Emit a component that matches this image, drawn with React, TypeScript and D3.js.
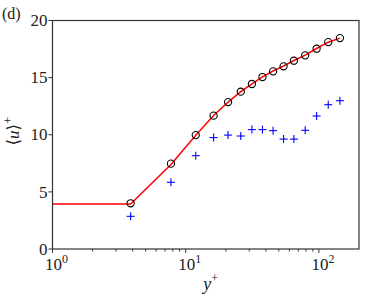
import React from 'react';
import * as d3 from "d3";

// constants
const width = 366;
const height = 299;
const margin = {top: 20.5, right: 7, bottom: 50, left: 52.5};
const innerWidth = width - margin.left - margin.right;
const innerHeight = height - margin.top - margin.bottom;

// data
const circleY = [3.86, 7.75, 11.9, 16.2, 20.8, 25.9, 31.4, 37.7, 45.3, 54.3, 64.9, 78.9, 96.1, 117.5, 143.8];
const circleU = [4.0, 7.47, 9.97, 11.67, 12.86, 13.77, 14.44, 15.05, 15.55, 15.99, 16.48, 16.95, 17.53, 18.11, 18.46];
const plusU = [2.86, 5.84, 8.17, 9.75, 9.97, 9.89, 10.45, 10.45, 10.36, 9.62, 9.62, 10.39, 11.64, 12.63, 12.98];
const lineY = [1, 3.86, 7.75, 11.9, 16.2, 20.8, 25.9, 31.4, 37.7, 45.3, 54.3, 64.9, 78.9, 96.1, 117.5, 143.8];
const lineU = [3.94, 3.94, 7.4, 9.95, 11.68, 12.86, 13.78, 14.46, 15.06, 15.58, 16.02, 16.5, 16.97, 17.55, 18.1, 18.46];
const yTicks = [0, 5, 10, 15, 20];
const xMajor = [1, 10, 100];
const xMinor = [2, 3, 4, 5, 6, 7, 8, 9, 20, 30, 40, 50, 60, 70, 80, 90];

const font = "Liberation Serif, DejaVu Serif, serif";
const axisColor = "#333";

const App = () => {
  const x = d3.scaleLog().domain([1, 200]).range([0, innerWidth]);
  const y = d3.scaleLinear().domain([0, 20]).range([innerHeight, 0]);

  const line = d3.line<number>()
    .x((d, i) => x(lineY[i]))
    .y(d => y(d));

  return (
    <svg width={width} height={height} style={{position: 'absolute', left: 0, top: 0}}>
      <g transform={`translate(${margin.left},${margin.top})`}>
        <path d={line(lineU) || ''} fill="none" stroke="#ff0000" strokeWidth={1.5} />
        {circleY.map((v, i) => (
          <circle key={'c' + i} cx={x(v)} cy={y(circleU[i])} r={3.6}
            fill="none" stroke="#000" strokeWidth={1.1} />
        ))}
        {circleY.map((v, i) => (
          <g key={'p' + i} transform={`translate(${x(v)},${y(plusU[i])})`}
            stroke="#0000ff" strokeWidth={1.1}>
            <line x1={-4} x2={4} y1={0} y2={0} />
            <line x1={0} x2={0} y1={-4} y2={4} />
          </g>
        ))}
        <rect x={0} y={0} width={innerWidth} height={innerHeight} fill="none" stroke={axisColor} strokeWidth={1.2} />
        {/* y axis */}
        {yTicks.map(t => (
          <g key={'yt' + t} transform={`translate(0,${y(t)})`}>
            <line x1={-4} x2={0} stroke={axisColor} />
            <text x={-5} dy="0.33em" textAnchor="end" fontFamily={font} fontSize={17} fill="#222">{t}</text>
          </g>
        ))}
        {/* x axis */}
        {xMinor.map(t => (
          <line key={'xm' + t} x1={x(t)} x2={x(t)} y1={innerHeight} y2={innerHeight + 2.5} stroke={axisColor} />
        ))}
        {xMajor.map((t, i) => (
          <g key={'xt' + t} transform={`translate(${x(t)},${innerHeight})`}>
            <line y1={0} y2={4} stroke={axisColor} />
            <text x={4} y={21} textAnchor="middle" fontFamily={font} fontSize={17} fill="#222">
              10<tspan dy={-7} fontSize={12}>{i}</tspan>
            </text>
          </g>
        ))}
        <text x={innerWidth / 2 + 5} y={innerHeight + 41} textAnchor="middle" fontFamily={font} fontSize={18} fontStyle="italic" fill="#222">
          y<tspan dy={-8} fontSize={12} fontStyle="normal">+</tspan>
        </text>
        <text transform={`translate(${-34},${y(10.3)}) rotate(-90)`} textAnchor="middle" fontFamily={font} fontSize={17} fill="#222">
          ⟨<tspan fontStyle="italic">u</tspan>⟩<tspan dy={-7} fontSize={12}>+</tspan>
        </text>
      </g>
      <text x={2} y={19} fontFamily={font} fontSize={16} fill="#222">(d)</text>
    </svg>
  );
};

export default App;
